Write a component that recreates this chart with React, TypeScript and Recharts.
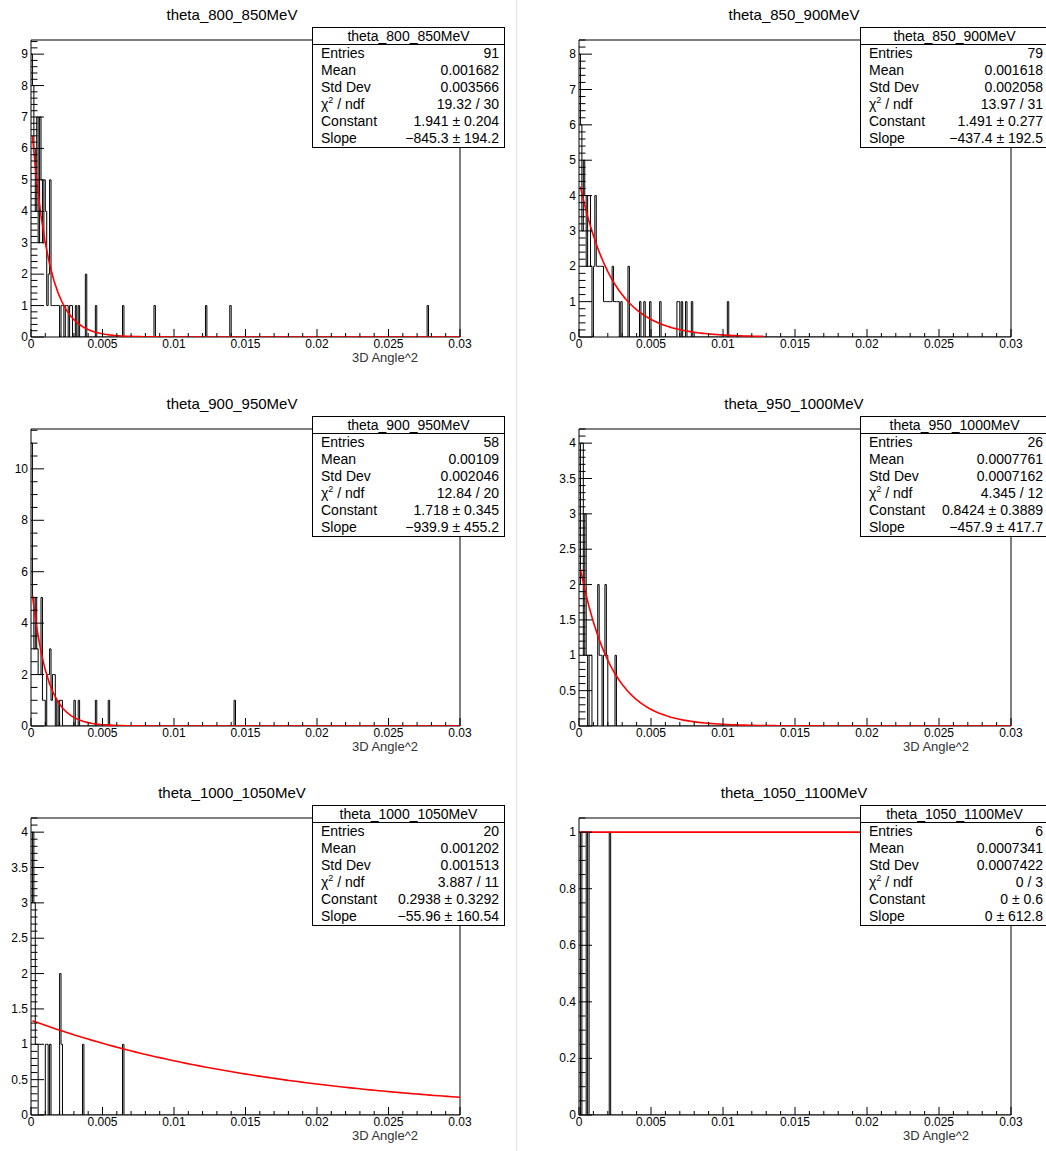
import React from 'react';
import { ComposedChart, Line, XAxis, YAxis, ReferenceArea } from 'recharts';

const FONT = '"Liberation Sans", Arial, Helvetica, sans-serif';

// 300 bins of width 0.0001 on [0, 0.03]
const N_BINS = 300;
const BIN_WIDTH = 0.0001;
const X_MAX = 0.03;
const X_MAJOR = [0, 0.005, 0.01, 0.015, 0.02, 0.025, 0.03];
const X_LABELS = ['0', '0.005', '0.01', '0.015', '0.02', '0.025', '0.03'];
const X_MINOR_STEP = 0.001;
const X_TITLE = '3D Angle^2';

// filled bins (bin index) and their contents, one pair per histogram
const bins800 = [0, 1, 2, 3, 4, 5, 6, 7, 8, 9, 10, 11, 12, 13, 14, 15, 16, 17, 18, 19, 21, 22, 24, 25, 27, 28, 31, 33, 38, 45, 64, 86, 122, 139, 277];
const counts800 = [9, 8, 6, 4, 7, 3, 7, 5, 3, 5, 4, 1, 2, 5, 1, 1, 1, 1, 1, 1, 1, 1, 1, 1, 1, 1, 1, 1, 2, 1, 1, 1, 1, 1, 1];

const bins850 = [0, 1, 2, 3, 4, 5, 6, 7, 8, 10, 11, 12, 13, 14, 15, 16, 17, 18, 19, 20, 21, 22, 23, 24, 25, 26, 27, 29, 34, 42, 45, 49, 56, 68, 69, 71, 74, 78, 103];
const counts850 = [8, 6, 3, 5, 4, 2, 4, 4, 2, 2, 4, 2, 2, 2, 2, 2, 1, 1, 1, 1, 1, 1, 2, 1, 1, 1, 1, 1, 2, 1, 1, 1, 1, 1, 1, 1, 1, 1, 1];

const bins900 = [0, 1, 2, 3, 4, 5, 6, 7, 8, 9, 11, 12, 13, 14, 15, 16, 18, 20, 21, 30, 33, 45, 54, 142];
const counts900 = [11, 5, 3, 5, 3, 2, 2, 5, 1, 1, 2, 2, 3, 1, 2, 2, 1, 1, 1, 1, 1, 1, 1, 1];

const bins950 = [0, 1, 2, 3, 4, 5, 7, 8, 13, 14, 15, 17, 18, 19, 25];
const counts950 = [2, 4, 4, 1, 3, 1, 1, 1, 2, 1, 1, 1, 2, 1, 1];

const bins1000 = [0, 1, 2, 3, 4, 10, 11, 13, 20, 21, 36, 64];
const counts1000 = [3, 4, 3, 1, 1, 1, 1, 1, 2, 1, 1, 1];

const bins1050 = [0, 2, 3, 4, 6, 21];
const counts1050 = [1, 1, 1, 1, 1, 1];

const allBins = [bins800, bins850, bins900, bins950, bins1000, bins1050];
const allCounts = [counts800, counts850, counts900, counts950, counts1000, counts1050];

// fit results (expo: exp(Constant + Slope * x))
const titles = ['theta_800_850MeV', 'theta_850_900MeV', 'theta_900_950MeV', 'theta_950_1000MeV', 'theta_1000_1050MeV', 'theta_1050_1100MeV'];
const entries = [91, 79, 58, 26, 20, 6];
const means = ['0.001682', '0.001618', '0.00109', '0.0007761', '0.001202', '0.0007341'];
const stdDevs = ['0.003566', '0.002058', '0.002046', '0.0007162', '0.001513', '0.0007422'];
const chi2 = ['19.32 / 30', '13.97 / 31', '12.84 / 20', '4.345 / 12', '3.887 / 11', '0 / 3'];
const constants = [1.941, 1.491, 1.718, 0.8424, 0.2938, 0];
const constErrs = ['0.204', '0.277', '0.345', '0.3889', '0.3292', '0.6'];
const slopes = [-845.3, -437.4, -939.9, -457.9, -55.96, 0];
const slopeErrs = ['194.2', '192.5', '455.2', '417.7', '160.54', '612.8'];
const fitFrom = [0.0001, 0.0001, 0.0001, 0.0001, 0.0001, 0.0001];
const fitTo = [0.03, 0.0128, 0.03, 0.03, 0.03, 0.03];

const yMajor = [1, 1, 2, 0.5, 0.5, 0.2];
const yMinor = [0.2, 0.2, 0.5, 0.1, 0.1, 0.05];

const FIT_NPX = 100;

function histRows(bins: number[], counts: number[]) {
  const h = new Array(N_BINS).fill(0);
  bins.forEach((b, k) => (h[b] = counts[k]));
  const rows = h.map((v, k) => ({ x: k * BIN_WIDTH, h: v }));
  rows.push({ x: X_MAX, h: h[N_BINS - 1] });
  return rows;
}

function fitRows(c: number, s: number, x0: number, x1: number) {
  const rows = [];
  for (let k = 0; k <= FIT_NPX; k++) {
    const x = x0 + ((x1 - x0) * k) / FIT_NPX;
    rows.push({ x, f: Math.exp(c + s * x) });
  }
  return rows;
}

const xTicks = Array.from({ length: Math.round(X_MAX / X_MINOR_STEP) + 1 }, (_, k) => +(k * X_MINOR_STEP).toFixed(4));

const fmtSigned = (v: number) => String(v).replace('-', '\u2212');

function XTick(props: any) {
  const { x, y, payload } = props;
  const k = X_MAJOR.findIndex((m) => Math.abs(m - payload.value) < 1e-9);
  const len = k >= 0 ? 8 : 4;
  return (
    <g>
      <line x1={x} x2={x} y1={y} y2={y - len} stroke="#000" strokeWidth={1} />
      {k >= 0 && (
        <text x={x} y={y + 11} textAnchor="middle" fontSize={12} fontFamily={FONT} fill="#000">
          {X_LABELS[k]}
        </text>
      )}
    </g>
  );
}

function makeYTick(major: number) {
  return (props: any) => {
    const { x, y, payload } = props;
    const r = payload.value / major;
    const isMajor = Math.abs(r - Math.round(r)) < 1e-6;
    return (
      <g>
        <line x1={x} x2={x + (isMajor ? 13 : 6.5)} y1={y} y2={y} stroke="#000" strokeWidth={1} />
        {isMajor && (
          <text x={x - 3} y={y + 4} textAnchor="end" fontSize={12} fontFamily={FONT} fill="#000">
            {String(+payload.value.toFixed(2))}
          </text>
        )}
      </g>
    );
  };
}

const ROW_STEP = 389;
const PLOT_H = 297;

function HistPanel({ i }: { i: number }) {
  const col = i % 2;
  const row = Math.floor(i / 2);
  const plotL = col ? 579 : 31;
  const plotR = col ? 1011 : 460;
  const plotT = 40 + row * ROW_STEP;
  const YW = 40;
  const XH = 24;
  const MT = 8;
  const MR = 22;

  const rows = histRows(allBins[i], allCounts[i]);
  const fit = fitRows(constants[i], slopes[i], fitFrom[i], fitTo[i]);
  const yTop = Math.max(...allCounts[i]) * 1.05;
  const nY = Math.floor(yTop / yMinor[i] + 1e-6);
  const yTicks = Array.from({ length: nY + 1 }, (_, k) => +(k * yMinor[i]).toFixed(4));

  return (
    <div style={{ position: 'absolute', left: plotL - YW, top: plotT - MT }}>
      <ComposedChart
        width={plotR - plotL + YW + MR}
        height={PLOT_H + MT + XH}
        margin={{ top: MT, right: MR, bottom: 0, left: 0 }}
        data={rows}
      >
        <XAxis
          type="number"
          dataKey="x"
          domain={[0, X_MAX]}
          ticks={xTicks}
          interval={0}
          tickSize={0}
          tickMargin={0}
          axisLine={false}
          tick={XTick}
          height={XH}
          allowDataOverflow
        />
        <YAxis
          type="number"
          domain={[0, yTop]}
          ticks={yTicks}
          interval={0}
          tickSize={0}
          tickMargin={0}
          axisLine={false}
          tick={makeYTick(yMajor[i])}
          width={YW}
          allowDataOverflow
        />
        <ReferenceArea x1={0} x2={X_MAX} y1={0} y2={yTop} fill="#fff" fillOpacity={0} stroke="#000" strokeWidth={1} />
        <Line data={rows} dataKey="h" type="stepAfter" stroke="#000" strokeWidth={1} dot={false} isAnimationActive={false} />
        <Line data={fit} dataKey="f" type="linear" stroke="#ff0000" strokeWidth={1.6} dot={false} isAnimationActive={false} />
      </ComposedChart>
      {i !== 1 && (
        <div
          style={{
            position: 'absolute',
            right: MR + 42,
            top: MT + PLOT_H + 14,
            fontSize: 13,
            lineHeight: '14px',
            color: '#333',
            whiteSpace: 'nowrap',
          }}
        >
          {X_TITLE}
        </div>
      )}
    </div>
  );
}

function StatsBox({ i }: { i: number }) {
  const col = i % 2;
  const row = Math.floor(i / 2);
  const left = col ? 860 : 312;
  const width = col ? 189 : 193;
  const top = 27 + row * ROW_STEP;
  const lines: [React.ReactNode, string][] = [
    ['Entries', String(entries[i])],
    ['Mean', means[i]],
    ['Std Dev', stdDevs[i]],
    [
      <span>
        χ<sup style={{ fontSize: 9, lineHeight: 0 }}>2</sup> / ndf
      </span>,
      chi2[i],
    ],
    ['Constant', `${fmtSigned(constants[i])} \u00b1 ${constErrs[i]}`],
    ['Slope', `${fmtSigned(slopes[i])} \u00b1 ${slopeErrs[i]}`],
  ];
  return (
    <div
      style={{
        position: 'absolute',
        left,
        top,
        width,
        boxSizing: 'border-box',
        border: '1px solid #000',
        background: '#fff',
        fontSize: 14,
        color: '#000',
      }}
    >
      <div style={{ height: 16, lineHeight: '16px', textAlign: 'center', borderBottom: '1px solid #000' }}>{titles[i]}</div>
      {lines.map(([k, v], n) => (
        <div
          key={n}
          style={{
            display: 'flex',
            justifyContent: 'space-between',
            height: 17,
            lineHeight: '17px',
            padding: '0 5px 0 8px',
          }}
        >
          <span>{k}</span>
          <span>{v}</span>
        </div>
      ))}
    </div>
  );
}

export default function App() {
  return (
    <div
      style={{
        position: 'absolute',
        left: 0,
        top: 0,
        width: 1046,
        height: 1151,
        overflow: 'hidden',
        background: '#fff',
        fontFamily: FONT,
      }}
    >
      <div style={{ position: 'absolute', left: 516, top: 0, width: 1, height: 1151, background: '#e4e4e4' }} />
      {titles.map((t, i) => (
        <div
          key={t}
          style={{
            position: 'absolute',
            left: (i % 2 ? 794 : 232) - 150,
            top: 6 + Math.floor(i / 2) * ROW_STEP,
            width: 300,
            textAlign: 'center',
            fontSize: 15,
            lineHeight: '18px',
            color: '#000',
          }}
        >
          {t}
        </div>
      ))}
      {titles.map((t, i) => (
        <HistPanel key={'h' + t} i={i} />
      ))}
      {titles.map((t, i) => (
        <StatsBox key={'s' + t} i={i} />
      ))}
    </div>
  );
}
